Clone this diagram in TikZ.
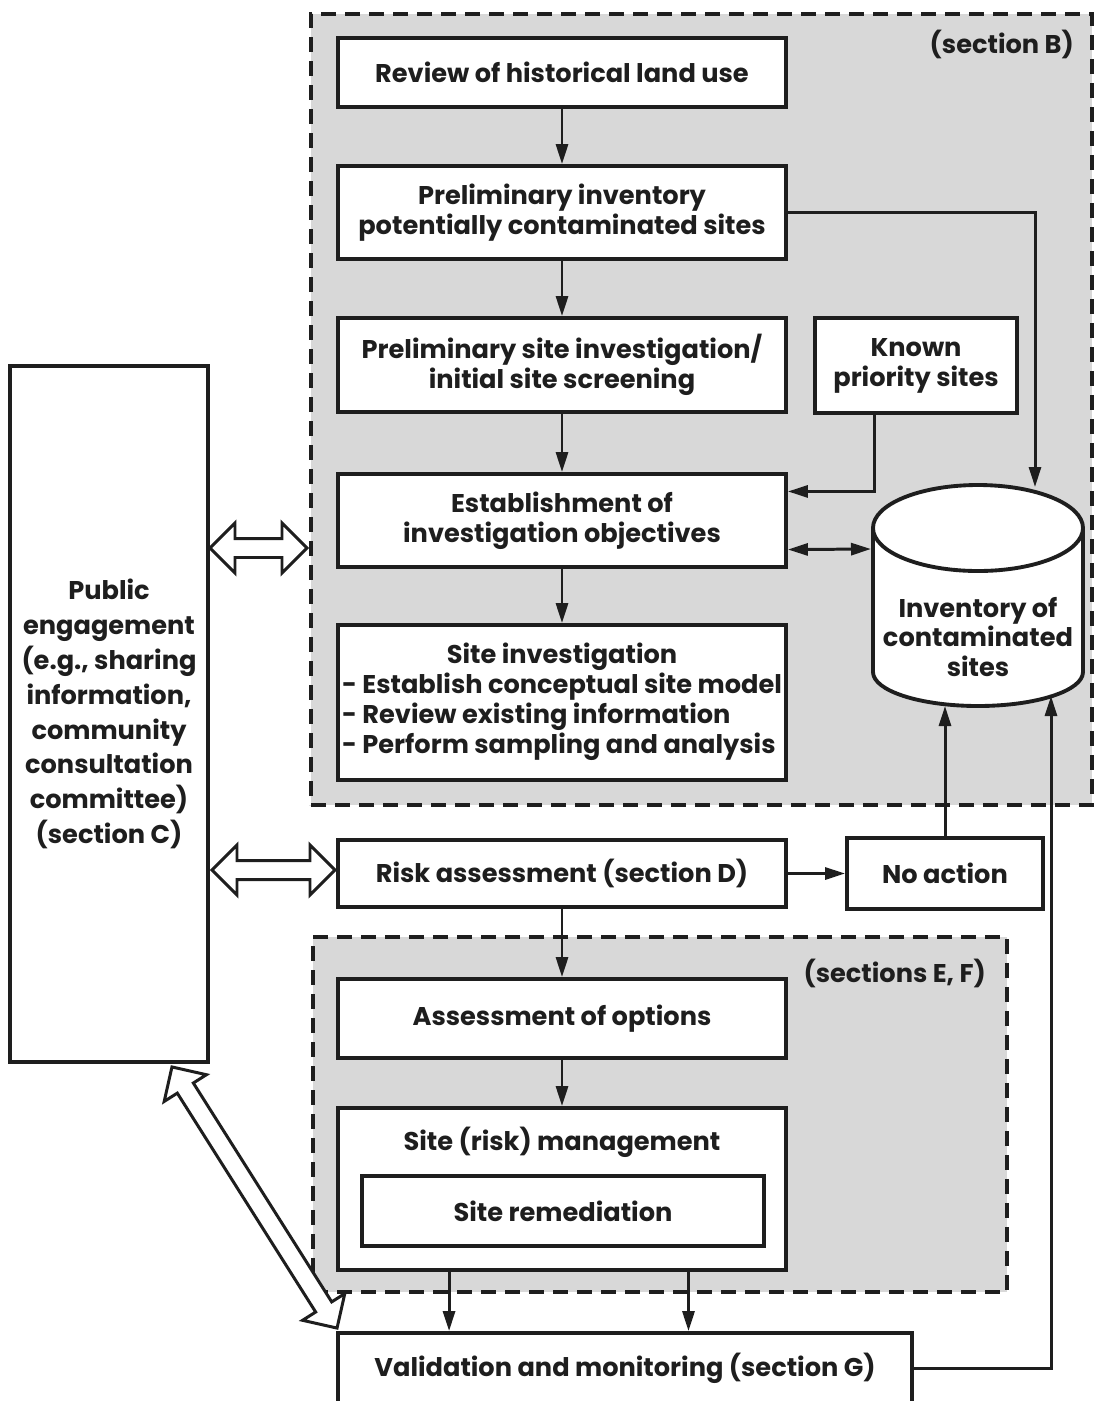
\documentclass[tikz,border=0pt]{standalone}
\usepackage{fontspec}
\setmainfont{Poppins}
\usetikzlibrary{arrows.meta,calc,shapes.arrows}
\definecolor{secgray}{RGB}{216,216,216}
\definecolor{ink}{RGB}{30,30,30}
\tikzset{
  box/.style={draw=ink, line width=2.2pt, fill=white, align=center, inner sep=0pt, minimum width=8.96cm},
  section/.style={draw=ink, line width=2.2pt, fill=secgray, dash pattern=on 3mm off 1.8mm, inner sep=0pt},
  arr/.style={draw=ink, line width=1.7pt, -{Triangle[length=4mm,width=2.4mm]}},
  dbl/.style={draw=ink, line width=1.7pt, {Triangle[length=4mm,width=2.4mm]}-{Triangle[length=4mm,width=2.4mm]}},
  fat/.style={double arrow, draw=ink, line width=1.7pt, fill=white, inner xsep=0pt, inner ysep=0.16cm, double arrow head extend=0.31cm},
}
\begin{document}
\begin{tikzpicture}[x=0.02cm, y=-0.02cm, font=\bfseries\fontsize{14.6}{17}\selectfont, text=ink]
	\useasboundingbox (0,0) rectangle (1096,1401);
	\node[section, minimum width=15.62cm, minimum height=15.82cm] (secB) at (701.5,409.5) {};
	\node[section, minimum width=13.88cm, minimum height=7.1cm] (secEF) at (660,1114.5) {};
	\node[anchor=east] (labB) at (1080,44) {(section B)};
	\node[anchor=east] (labEF) at (992,973) {(sections E, F)};

	\node[box, minimum height=1.38cm] (review) at (562,72.5) {Review of historical land use};
	\node[box, minimum height=1.86cm] (inv) at (562,212.5) {Preliminary inventory\\potentially contaminated sites};
	\node[box, minimum height=1.88cm] (psi) at (562,365) {Preliminary site investigation/\\initial site screening};
	\node[box, minimum width=4.04cm, minimum height=1.9cm] (known) at (916,365.5) {Known\\priority sites};
	\node[box, minimum height=1.86cm] (estab) at (562,520.5) {Establishment of\\investigation objectives};
	\node[box, minimum height=3.1cm] (siteinv) at (562,702.5) {\begin{tabular}{@{}l@{}}\multicolumn{1}{@{}c@{}}{Site investigation}\\- Establish conceptual site model\\- Review existing information\\- Perform sampling and analysis\end{tabular}};
	\node[box, minimum width=3.96cm, minimum height=13.92cm, font=\bfseries\fontsize{14.6}{19.8}\selectfont] (pub) at (109,714) {Public\\engagement\\(e.g., sharing\\information,\\community\\consultation\\committee)\\(section C)};
	\node[box, minimum height=1.34cm] (risk) at (562,873.5) {Risk assessment (section D)};
	\node[box, minimum width=3.92cm, minimum height=1.42cm] (noact) at (945,873.5) {No action};
	\node[box, minimum height=1.58cm] (options) at (562,1018.5) {Assessment of options};
	\node[box, minimum height=3.24cm] (mgmt) at (562,1189) {};
	\node (mgmttext) at (562,1142) {Site (risk) management};
	\node[box, minimum width=8.04cm, minimum height=1.4cm] (remed) at (563,1211) {Site remediation};
	\node[box, minimum width=11.48cm, minimum height=1.4cm] (valid) at (625,1368) {Validation and monitoring (section G)};

	\draw[ink, line width=2.2pt, fill=white] (873,528) -- (873,672) arc[start angle=180, end angle=0, x radius=105, y radius=34] -- (1083,528) arc[start angle=0, end angle=-180, x radius=105, y radius=43] -- cycle;
	\draw[ink, line width=2.2pt] (873,528) arc[start angle=180, end angle=0, x radius=105, y radius=43];
	\node[align=center] (store) at (978,637) {Inventory of\\contaminated\\sites};
	\coordinate (storetop) at (1035,487);
	\coordinate (storeleft) at (871,549);
	\coordinate (storeb1) at (945,706);
	\coordinate (storeb2) at (1051,696);

	\draw[arr] (review.south) -- (inv.north);
	\draw[arr] (inv.east) -| (storetop);
	\draw[arr] (inv.south) -- (psi.north);
	\draw[arr] (psi.south) -- (estab.north);
	\draw[arr] ($(known.south west)!0.3!(known.south east)$) |- ($(estab.north east)!0.2!(estab.south east)$);
	\draw[dbl] ($(estab.north east)!0.8!(estab.south east)$) -- (storeleft);
	\draw[arr] (estab.south) -- (siteinv.north);
	\draw[arr] (risk.east) -- (noact.west);
	\draw[arr] (noact.north) -- (storeb1);
	\draw[arr] (risk.south) -- (options.north);
	\draw[arr] (options.south) -- (mgmt.north);
	\foreach \f in {0.25,0.78}
		\draw[arr] ($(mgmt.south west)!\f!(mgmt.south east)$) coordinate (m) -- (m |- valid.north);
	\draw[arr] (valid.east) -| (storeb2);

	\node[fat, minimum height=1.94cm] (fat1) at (258.5,548) {};
	\node[fat, minimum height=2.46cm] (fat2) at (273.5,870) {};
	\node[fat, minimum height=6.18cm, rotate=-57.7] (fat3) at (254.5,1197.5) {};
\end{tikzpicture}
\end{document}
